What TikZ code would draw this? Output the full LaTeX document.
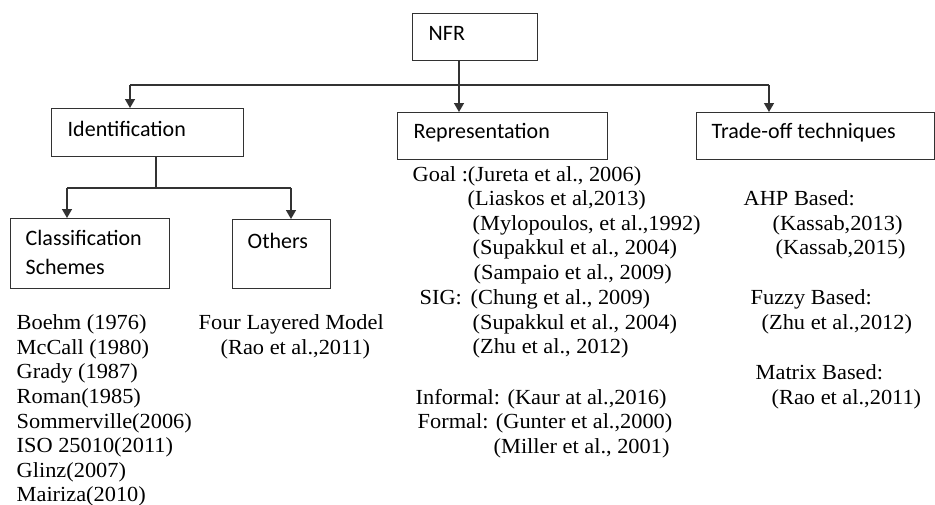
\documentclass[tikz,border=0pt]{standalone}
\usepackage{fontspec}
\setmainfont{Liberation Serif}[FakeStretch=1.04]
\newfontfamily\calfont{Carlito}
\usetikzlibrary{arrows.meta}
\begin{document}
\begin{tikzpicture}[x=1pt,y=-1pt,
  line width=1.4pt, draw={rgb,255:red,50;green,50;blue,50},
  box/.style={draw, rectangle, inner sep=0pt, anchor=north west},
  arr/.style={-{Triangle[width=10pt,length=9pt]}},
  lab/.style={anchor=base west, inner sep=0pt, font=\calfont\fontsize{22}{26}\selectfont},
  ref/.style={anchor=base west, inner sep=0pt, font=\fontsize{21.5}{24}\selectfont}]
\useasboundingbox (0,0) rectangle (935,504);
% boxes
\node[box, minimum width=125pt, minimum height=47pt] (nfr) at (412,13) {};
\node[box, minimum width=192pt, minimum height=48pt] (ident) at (51,108) {};
\node[box, minimum width=210pt, minimum height=47pt] (rep) at (397,112) {};
\node[box, minimum width=238pt, minimum height=47pt] (trade) at (696,112) {};
\node[box, minimum width=159pt, minimum height=70pt] (class) at (10,218) {};
\node[box, minimum width=98pt, minimum height=69pt] (others) at (232,219) {};
% box labels
\node[lab] (tnfr) at (428,40) {NFR};
\node[lab] (tident) at (67,136) {Identification};
\node[lab] (trep) at (413,138) {Representation};
\node[lab] (ttrade) at (711,138) {Trade-off techniques};
\node[lab] (tclass1) at (25,245) {Classification};
\node[lab] (tclass2) at (25,274) {Schemes};
\node[lab] (tothers) at (247,248) {Others};
% connectors
\coordinate (busL) at (130,85);
\coordinate (busM) at (459,85);
\coordinate (busR) at (769,85);
\draw[arr] (nfr.south -| busM) -- (rep.north -| busM);
\draw (busL) -- (busR);
\draw[arr] (busL) -- (ident.north -| busL);
\draw[arr] (busR) -- (trade.north -| busR);
\coordinate (ibus) at (156,188);
\coordinate (cbus) at (67,188);
\coordinate (obus) at (291,188);
\draw (ident.south -| ibus) -- (ibus);
\draw (cbus) -- (obus);
\draw[arr] (cbus) -- (class.north -| cbus);
\draw[arr] (obus) -- (others.north -| obus);
% left column
\node[ref] (c1) at (16,329) {Boehm (1976)};
\node[ref] (c2) at (16,354) {McCall (1980)};
\node[ref] (c3) at (16,378) {Grady (1987)};
\node[ref] (c4) at (16,403) {Roman(1985)};
\node[ref] (c5) at (16,428) {Sommerville(2006)};
\node[ref] (c6) at (16,452) {ISO 25010(2011)};
\node[ref] (c7) at (16,477) {Glinz(2007)};
\node[ref] (c8) at (16,501) {Mairiza(2010)};
% others column
\node[ref] (o1) at (198,329) {Four Layered Model};
\node[ref] (o2) at (220,354) {(Rao et al.,2011)};
% representation column
\node[ref] (r1) at (412,181) {Goal :(Jureta et al., 2006)};
\node[ref] (r2) at (467,205) {(Liaskos et al,2013)};
\node[ref] (r3) at (472,230) {(Mylopoulos, et al.,1992)};
\node[ref] (r4) at (472,254) {(Supakkul et al., 2004)};
\node[ref] (r5) at (473,279) {(Sampaio et al., 2009)};
\node[ref] (r6) at (419,304) {SIG:};
\node[ref] (r6b) at (470,304) {(Chung et al., 2009)};
\node[ref] (r7) at (472,329) {(Supakkul et al., 2004)};
\node[ref] (r8) at (472,353) {(Zhu et al., 2012)};
\node[ref] (r9) at (415,404) {Informal: (Kaur at al.,2016)};
\node[ref] (r10) at (417,428) {Formal: (Gunter et al.,2000)};
\node[ref] (r11) at (493,453) {(Miller et al., 2001)};
% trade-off column
\node[ref] (t1) at (743,205) {AHP Based:};
\node[ref] (t2) at (772,230) {(Kassab,2013)};
\node[ref] (t3) at (775,254) {(Kassab,2015)};
\node[ref] (t4) at (750,304) {Fuzzy Based:};
\node[ref] (t5) at (761,329) {(Zhu et al.,2012)};
\node[ref] (t6) at (755,379) {Matrix Based:};
\node[ref] (t7) at (771,404) {(Rao et al.,2011)};
\end{tikzpicture}
\end{document}
